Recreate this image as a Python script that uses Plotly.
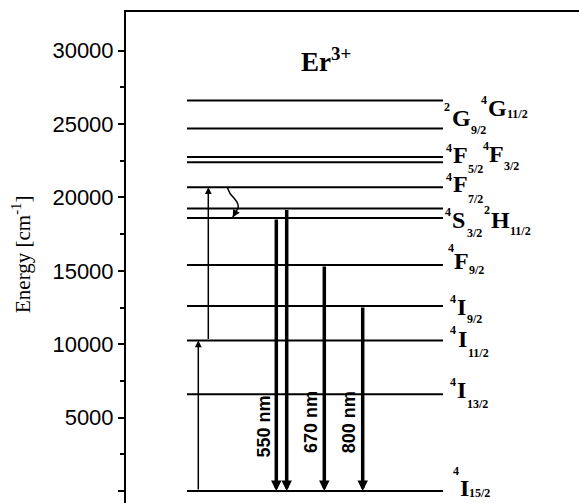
import plotly.graph_objects as go

# ---------------- data ----------------
level_energy = [0, 6600, 10250, 12600, 15400, 18600, 19250, 20700, 22400, 22750, 24700, 26600]

# term symbol labels: multiplicity, letter, J
label_mult = ["4", "4", "4", "4", "4", "4", "2", "4", "4", "4", "2", "4"]
label_letter = ["I", "I", "I", "I", "F", "S", "H", "F", "F", "F", "G", "G"]
label_j = ["15/2", "13/2", "11/2", "9/2", "9/2", "3/2", "11/2", "7/2", "5/2", "3/2", "9/2", "11/2"]

# excitation (thin) arrows: start energy, end energy
exc_from = [0, 10250]
exc_to = [10250, 20700]

# emission (thick) arrows: start energy -> ground
emi_from = [18600, 19250, 15400, 12600]
emi_to = [0, 0, 0, 0]

emi_labels = ["550 nm", "670 nm", "800 nm"]
emi_label_energy = [4380, 4720, 4670]

# non-radiative relaxation (wavy) path energies
wave_energy = [20692, 20284, 19711, 19371, 18921, 18649]

yticks = [0, 5000, 10000, 15000, 20000, 25000, 30000]

# ---------------- layout helpers (pixel geometry) ----------------
W, H = 579, 503
PL, PT = 126, 12
Y0_PX = 491.0
PX_PER = 440.3 / 30000.0


def e_of(py):
    return (Y0_PX - py) / PX_PER


YMIN = e_of(H)
YMAX = e_of(PT)

LEVEL_X = [187, 443]
exc_x = [198.3, 208.3]
emi_x = [276.3, 286.7, 324.3, 362.7]
emi_label_x = [263.7, 310.3, 349.7]
wave_x = [227.3, 230.0, 236.7, 238.3, 235.0, 232.7]

# label part positions (pixel): sup right x, sup center y, letter left x, letter center y, sub left x, sub center y
lab_pos = [
    (459.0, 470.5, 460.0, 487.5, 469.0, 492.5),
    (455.5, 382.0, 457.0, 390.0, 467.0, 404.0),
    (456.0, 330.0, 458.0, 338.5, 468.0, 352.5),
    (455.7, 298.5, 457.0, 306.5, 467.0, 319.0),
    (454.0, 248.0, 454.0, 260.5, 469.0, 270.0),
    (450.7, 212.0, 451.7, 220.0, 466.7, 233.0),
    (490.0, 210.0, 490.5, 219.5, 510.0, 230.5),
    (452.0, 176.5, 453.0, 184.0, 468.0, 198.5),
    (452.0, 147.5, 453.0, 154.5, 468.0, 168.5),
    (488.5, 145.5, 489.0, 153.5, 504.0, 165.5),
    (449.5, 106.5, 452.0, 117.5, 471.0, 130.0),
    (487.0, 100.0, 488.0, 107.5, 507.0, 114.0),
]

SERIF = "Liberation Serif, Times New Roman, serif"
SANS = "Liberation Sans, Arial, sans-serif"

fig = go.Figure()

# energy level lines
lx, ly = [], []
for e in level_energy:
    lx += [LEVEL_X[0], LEVEL_X[1], None]
    ly += [e, e, None]
fig.add_trace(go.Scatter(x=lx, y=ly, mode="lines", line=dict(color="black", width=2),
                         hoverinfo="skip", showlegend=False))

# wavy relaxation line
fig.add_trace(go.Scatter(x=wave_x, y=wave_energy, mode="lines",
                         line=dict(color="black", width=1.5, shape="spline"),
                         hoverinfo="skip", showlegend=False))

annotations = []

# excitation arrows
for x, a, b in zip(exc_x, exc_from, exc_to):
    annotations.append(dict(x=x, y=b, ax=x, ay=a, xref="x", yref="y", axref="x", ayref="y",
                            text="", showarrow=True, arrowhead=2, arrowsize=0.9,
                            arrowwidth=1.5, arrowcolor="black", standoff=0))

# emission arrows
for x, a, b in zip(emi_x, emi_from, emi_to):
    annotations.append(dict(x=x, y=b, ax=x, ay=a, xref="x", yref="y", axref="x", ayref="y",
                            text="", showarrow=True, arrowhead=2, arrowsize=0.6,
                            arrowwidth=3.5, arrowcolor="black", standoff=0))

# wavy arrow head
annotations.append(dict(x=wave_x[-1], y=wave_energy[-1], ax=wave_x[-2], ay=wave_energy[-2],
                        xref="x", yref="y", axref="x", ayref="y", text="", showarrow=True,
                        arrowhead=2, arrowsize=1.0, arrowwidth=1.5, arrowcolor="black", standoff=0))

# emission wavelength labels
for t, x, e in zip(emi_labels, emi_label_x, emi_label_energy):
    annotations.append(dict(x=x, y=e, xref="x", yref="y", text="<b>%s</b>" % t, showarrow=False,
                            textangle=-90, font=dict(family=SANS, size=18, color="black"),
                            xanchor="center", yanchor="middle"))

# term labels
for m, L, j, p in zip(label_mult, label_letter, label_j, lab_pos):
    sx, sy, lxp, lyp, bx, by = p
    annotations.append(dict(x=sx, y=e_of(sy), xref="x", yref="y", text="<b>%s</b>" % m,
                            showarrow=False, xanchor="right", yanchor="middle",
                            borderpad=0, borderwidth=0,
                            font=dict(family=SERIF, size=12, color="black")))
    annotations.append(dict(x=lxp, y=e_of(lyp), xref="x", yref="y", text="<b>%s</b>" % L,
                            showarrow=False, xanchor="left", yanchor="middle",
                            borderpad=0, borderwidth=0,
                            font=dict(family=SERIF, size=24, color="black")))
    annotations.append(dict(x=bx, y=e_of(by), xref="x", yref="y", text="<b>%s</b>" % j,
                            showarrow=False, xanchor="left", yanchor="middle",
                            borderpad=0, borderwidth=0,
                            font=dict(family=SERIF, size=12, color="black")))

# ion title
annotations.append(dict(x=301, y=e_of(60), xref="x", yref="y", text="<b>Er<sup>3+</sup></b>",
                        showarrow=False, xanchor="left", yanchor="middle",
                        borderpad=0, borderwidth=0,
                        font=dict(family=SERIF, size=27, color="black")))

# y axis title
annotations.append(dict(x=0, y=e_of(255), xref="paper", yref="y", xshift=-105,
                        text="Energy [cm<sup>-1</sup>]", showarrow=False, textangle=-90,
                        xanchor="center", yanchor="middle",
                        font=dict(family=SERIF, size=21, color="black")))

fig.update_layout(
    width=W, height=H,
    margin=dict(l=PL, r=0, t=PT, b=0, pad=0),
    paper_bgcolor="white", plot_bgcolor="white",
    showlegend=False,
    annotations=annotations,
    xaxis=dict(range=[PL, W], side="top", showline=True, linecolor="black", linewidth=2,
               showgrid=False, zeroline=False, showticklabels=False, ticks="", fixedrange=True,
               automargin=False),
    yaxis=dict(range=[YMIN, YMAX], showline=True, linecolor="black", linewidth=2,
               showgrid=False, zeroline=False, ticks="outside", ticklen=6, tickwidth=1.5,
               tickcolor="black", tickvals=yticks, ticktext=[str(v) for v in yticks],
               tickfont=dict(family=SANS, size=22, color="black"),
               minor=dict(tickvals=[v + 2500 for v in yticks[:-1]], ticks="outside",
                          ticklen=4, tickwidth=1.5, tickcolor="black"),
               fixedrange=True, automargin=False),
)

fig.write_html("out.html", config={"displayModeBar": False},
               post_script="document.body.style.margin='0';document.body.style.padding='0';")
